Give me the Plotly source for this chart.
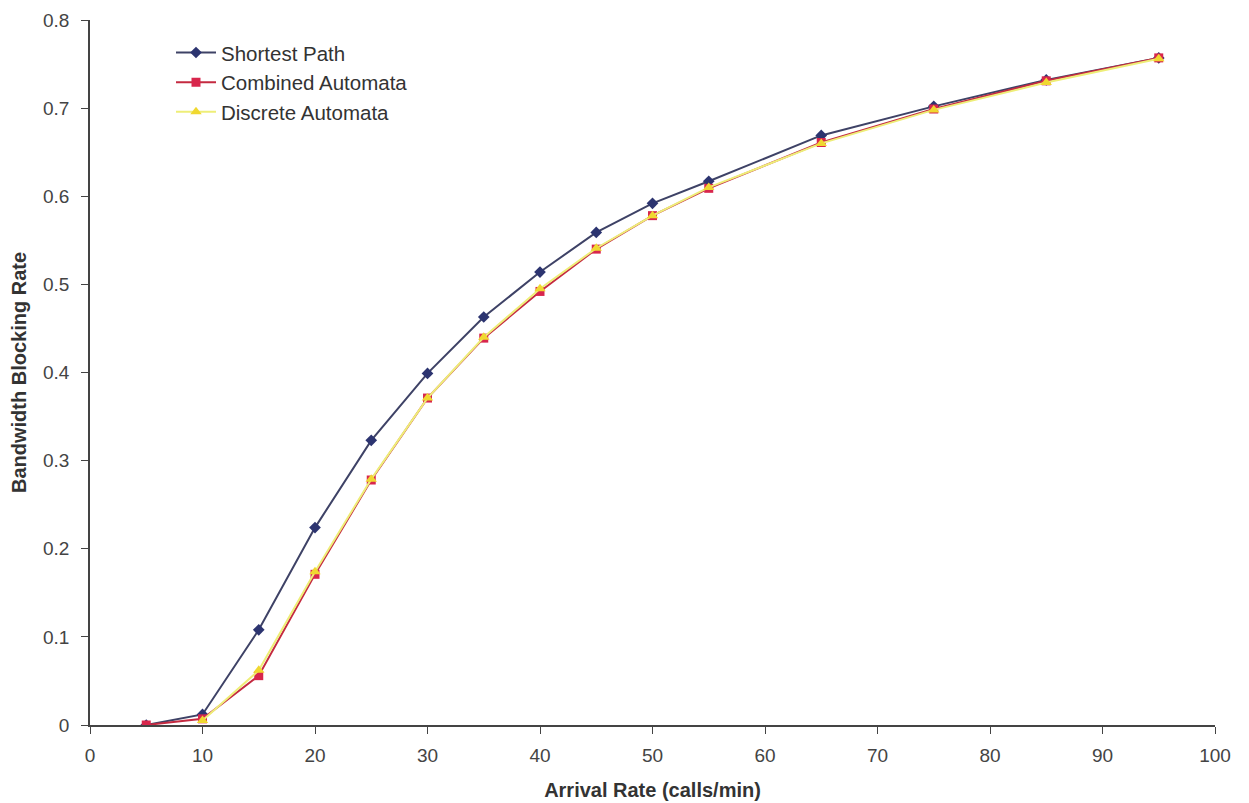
import plotly.graph_objects as go

x = [5, 10, 15, 20, 25, 30, 35, 40, 45, 50, 55, 65, 75, 85, 95]
shortest = [0.0, 0.012, 0.108, 0.224, 0.323, 0.399, 0.463, 0.514, 0.559, 0.592, 0.617, 0.669, 0.702, 0.732, 0.757]
combined = [0.0, 0.007, 0.056, 0.171, 0.278, 0.371, 0.439, 0.492, 0.540, 0.578, 0.609, 0.661, 0.699, 0.731, 0.757]
x_discrete = [10, 15, 20, 25, 30, 35, 40, 45, 50, 55, 65, 75, 85, 95]
discrete = [0.005, 0.062, 0.174, 0.279, 0.371, 0.440, 0.495, 0.541, 0.578, 0.610, 0.660, 0.698, 0.729, 0.756]

fig = go.Figure()
fig.add_trace(go.Scatter(x=x, y=shortest, name="Shortest Path", mode="lines+markers",
                         line=dict(color="#3e4266", width=2),
                         marker=dict(symbol="diamond", size=9, color="#2c3470")))
fig.add_trace(go.Scatter(x=x, y=combined, name="Combined Automata", mode="lines+markers",
                         line=dict(color="#c42a40", width=2),
                         marker=dict(symbol="square", size=9, color="#d8264c")))
fig.add_trace(go.Scatter(x=x_discrete, y=discrete, name="Discrete Automata", mode="lines+markers",
                         line=dict(color="#eeee78", width=2),
                         marker=dict(symbol="triangle-up", size=10, color="#f0d830")))

fig.update_layout(
    width=1249, height=803,
    margin=dict(l=82, r=42, t=12, b=86),
    plot_bgcolor="white", paper_bgcolor="white",
    font=dict(family="Liberation Sans, Arial, sans-serif", size=19, color="#444"),
    showlegend=True,
    legend=dict(x=0.072, y=0.982, xanchor="left", yanchor="top",
                bgcolor="rgba(0,0,0,0)", font=dict(size=20.5, color="#333"),
                itemwidth=40),
)
fig.update_xaxes(range=[0, 100], dtick=10, tick0=0, showline=True, linecolor="#444", linewidth=1.5,
                 ticks="outside", ticklen=7, tickcolor="#444", showgrid=False, zeroline=False,
                 automargin=False, ticklabelstandoff=5,
                 title=dict(text="<b>Arrival Rate (calls/min)</b>", font=dict(size=20, color="#333"), standoff=18))
fig.update_yaxes(range=[0, 0.8], dtick=0.1, tick0=0, showline=True, linecolor="#444", linewidth=1.5,
                 ticks="outside", ticklen=7, tickcolor="#444", showgrid=False, zeroline=False,
                 tickformat="~g", automargin=False, ticklabelstandoff=8,
                 title=dict(text="<b>Bandwidth Blocking Rate</b>", font=dict(size=20, color="#333"), standoff=14))

fig.write_html("out.html")
